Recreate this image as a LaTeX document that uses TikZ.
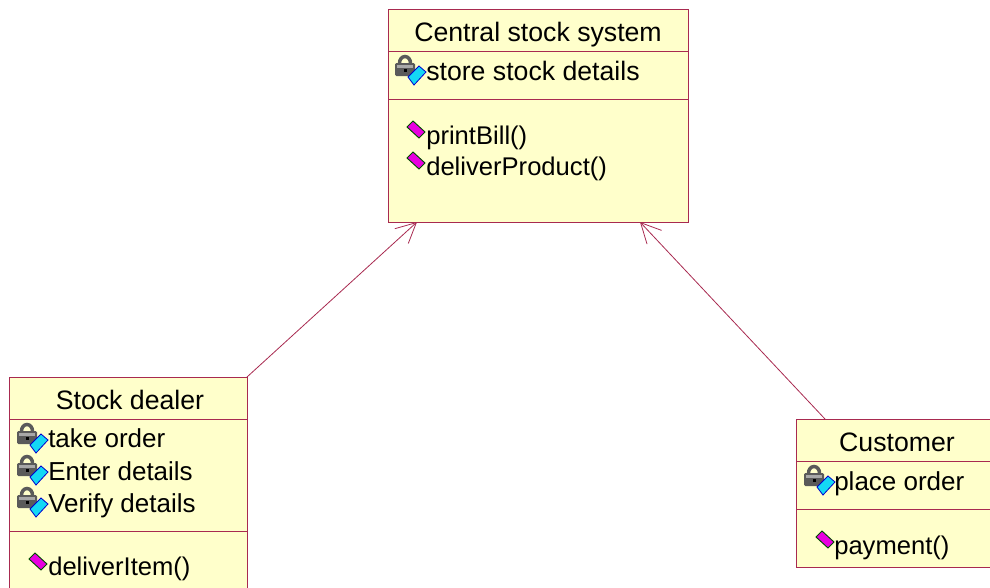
\documentclass[tikz,border=0pt]{standalone}
\usepackage{fontspec}
\setmainfont{Liberation Sans}
\usetikzlibrary{arrows.meta}

\definecolor{classfill}{HTML}{FFFFCB}
\definecolor{classline}{HTML}{A82A50}
\definecolor{lockgray}{HTML}{5A5A5A}
\definecolor{lockpale}{HTML}{A8A8A8}
\definecolor{keycyan}{HTML}{14D8F5}
\definecolor{opmagenta}{HTML}{E800E0}

\tikzset{
	classbox/.style={draw=classline,fill=classfill,line width=0.7pt,inner sep=0,outer sep=0},
	classtitle/.style={anchor=base,inner sep=0,font=\fontsize{20}{24}\selectfont},
	classitem/.style={anchor=base west,inner sep=0,font=\fontsize{19.5}{24}\selectfont},
	classop/.style={anchor=base west,inner sep=0,font=\fontsize{19.2}{24}\selectfont},
	assoc/.style={draw=classline,line width=0.6pt,-{Straight Barb[length=15pt,width=15pt,line width=0.6pt]}},
	attricon/.pic={
		\draw[lockgray,line width=2.6pt] (-5.5,-4) arc[start angle=180,end angle=360,x radius=5.5,y radius=6.5];
		\fill[lockgray,rounded corners=1pt] (-10,-4) rectangle (10,9);
		\fill[lockpale] (-8,-2) rectangle (8,1);
		\fill[black] (-1,2) rectangle (2,5);
		\draw[blue!80!black,fill=keycyan,line width=0.6pt] (3,10) -- (14,-1) -- (21,5) -- (9,18) -- cycle;
	},
	opicon/.pic={
		\draw[black!70!green,fill=opmagenta,line width=0.7pt] (-9,-2) -- (-3,-8) -- (9,3) -- (3,9) -- cycle;
	},
}

\begin{document}
\begin{tikzpicture}[x=0.75pt,y=-0.75pt]
	\useasboundingbox (0,0) rectangle (990,587);
	\clip (0,0) rectangle (990,587);
	% central stock system
	\node[classbox,minimum width=225pt,minimum height=31.5pt] (central) at (538,30) {};
	\node[classbox,minimum width=225pt,minimum height=36pt] (centralattr) at (538,75) {};
	\node[classbox,minimum width=225pt,minimum height=92.25pt] (centralop) at (538,160.5) {};
	\node[classtitle] (centralname) at (538,41) {Central stock system};
	\pic at (405,67) {attricon};
	\node[classitem,font=\fontsize{20}{24}\selectfont] (storestock) at (426,80) {store stock details};
	\pic at (416,129) {opicon};
	\node[classop] (printbill) at (426,144) {printBill()};
	\pic at (416,160) {opicon};
	\node[classop] (deliverproduct) at (426,175) {deliverProduct()};
	% stock dealer
	\node[classbox,minimum width=178.5pt,minimum height=31.5pt] (dealer) at (128,398) {};
	\node[classbox,minimum width=178.5pt,minimum height=84pt] (dealerattr) at (128,475) {};
	\node[classbox,minimum width=178.5pt,minimum height=51.75pt] (dealerop) at (128,565.5) {};
	\node[classtitle] (dealername) at (130,409) {Stock dealer};
	\pic at (27,435) {attricon};
	\node[classitem] (takeorder) at (48,447) {take order};
	\pic at (27,467) {attricon};
	\node[classitem] (enterdetails) at (48,480) {Enter details};
	\pic at (27,499) {attricon};
	\node[classitem] (verifydetails) at (48,512) {Verify details};
	\pic at (38,561) {opicon};
	\node[classop] (deliveritem) at (48,575.5) {deliverItem()};
	% customer
	\node[classbox,minimum width=153pt,minimum height=31.5pt] (customer) at (898,440) {};
	\node[classbox,minimum width=153pt,minimum height=36pt] (customerattr) at (898,485) {};
	\node[classbox,minimum width=153pt,minimum height=43.5pt] (customerop) at (898,538) {};
	\node[classtitle] (customername) at (897,451) {Customer};
	\pic at (814,477) {attricon};
	\node[classitem] (placeorder) at (834,490) {place order};
	\pic at (825,539) {opicon};
	\node[classop] (payment) at (834,554) {payment()};
	% associations
	\coordinate (dealerend) at (417,222);
	\coordinate (customerstart) at (825,419);
	\coordinate (customerend) at (640,222);
	\draw[assoc] (dealer.north east) -- (dealerend);
	\draw[assoc] (customerstart) -- (customerend);
\end{tikzpicture}
\end{document}
